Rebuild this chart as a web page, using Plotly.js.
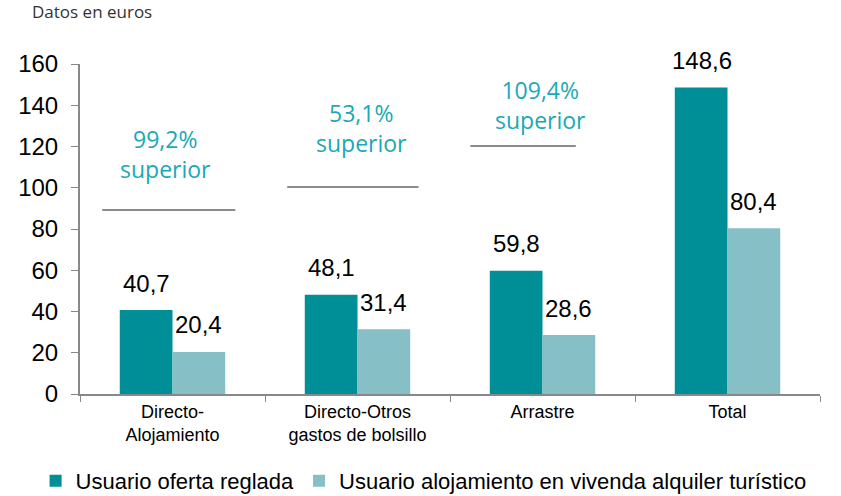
<!DOCTYPE html>
<html><head><meta charset="utf-8">
<script src="https://cdn.plot.ly/plotly-3.0.1.min.js"></script>
<style>body{margin:0}#c{width:841px;height:496px}</style>
</head><body><div id="c"></div>
<script>
const categories = ["Directo-<br>Alojamiento", "Directo-Otros<br>gastos de bolsillo", "Arrastre", "Total"];
const reglada = [40.7, 48.1, 59.8, 148.6];
const turistico = [20.4, 31.4, 28.6, 80.4];
const diffLabels = ["99,2%<br>superior", "53,1%<br>superior", "109,4%<br>superior", "84,8% superior"];
const seriesNames = ["Usuario oferta reglada", "Usuario alojamiento en vivenda alquiler turístico"];

const fmt = v => v.toFixed(1).replace('.', ',');
const teal = '#1aa9b5';
const colors = ['#008f96', '#86bfc6'];

const traces = [
  {type:'bar', x:categories, y:reglada, name:seriesNames[0], marker:{color:colors[0]}},
  {type:'bar', x:categories, y:turistico, name:seriesNames[1], marker:{color:colors[1]}}
];

// bracket lines (in category-index units) and label positions
const lineSpec = [
  {x0:-0.38, x1:0.34, y:89.2},
  {x0:0.62, x1:1.33, y:100.4},
  {x0:1.61, x1:2.18, y:120.2},
  {x0:2.53, x1:3.11, y:175}
];
const labelPos = [
  {x:-0.04, y:116.5}, {x:1.02, y:129}, {x:1.99, y:140}, {x:2.91, y:180.4}
];

const shapes = lineSpec.map(s => ({type:'line', xref:'x', yref:'y', x0:s.x0, x1:s.x1, y0:s.y, y1:s.y,
  line:{color:'#8c8c8c', width:2}}));
const annotations = diffLabels.map((t,i) => ({xref:'x', yref:'y', x:labelPos[i].x, y:labelPos[i].y,
  text:t, showarrow:false, yanchor:'middle', font:{family:'Open Sans', size:23, color:teal}}));
// value labels above bars
[reglada, turistico].forEach((arr, s) => {
  arr.forEach((v, i) => annotations.push({xref:'x', yref:'y', x:categories[i], y:v,
    xshift: s === 0 ? -26 : 26, yshift:27, yanchor:'middle', showarrow:false,
    text:fmt(v), font:{family:'Liberation Sans, Arial', size:24, color:'#000'}}));
});
annotations.push({xref:'paper', yref:'paper', x:-0.068, y:1.158, xanchor:'left', yanchor:'middle',
  text:'Datos en euros', showarrow:false, font:{family:'Open Sans', size:17, color:'#333'}});

const layout = {
  width:841, height:496,
  margin:{l:80, r:21, t:64, b:102, autoexpand:false},
  paper_bgcolor:'#fff', plot_bgcolor:'#fff',
  barmode:'group', bargap:0.43, bargroupgap:0,
  showlegend:true,
  legend:{orientation:'h', x:-0.06, xanchor:'left', y:-0.2, yanchor:'top',
    font:{family:'Liberation Sans, Arial', size:22, color:'#000'}, itemwidth:30, tracegroupgap:0},
  xaxis:{type:'category', showline:true, linecolor:'#888', linewidth:2,
    ticks:'outside', tickson:'boundaries', ticklen:6, tickcolor:'#888', tickwidth:1,
    tickfont:{family:'Liberation Sans, Arial', size:18, color:'#000'}, range:[-0.5,3.5]},
  yaxis:{range:[0,160], dtick:20, showgrid:false, zeroline:false, showline:true, linecolor:'#888', linewidth:2,
    ticks:'outside', ticklen:7, tickcolor:'#888', tickwidth:1, ticklabelstandoff:8,
    tickfont:{family:'Liberation Sans, Arial', size:24, color:'#000'}},
  shapes:shapes, annotations:annotations
};
Plotly.newPlot('c', traces, layout, {displayModeBar:false, staticPlot:true});
</script></body></html>
